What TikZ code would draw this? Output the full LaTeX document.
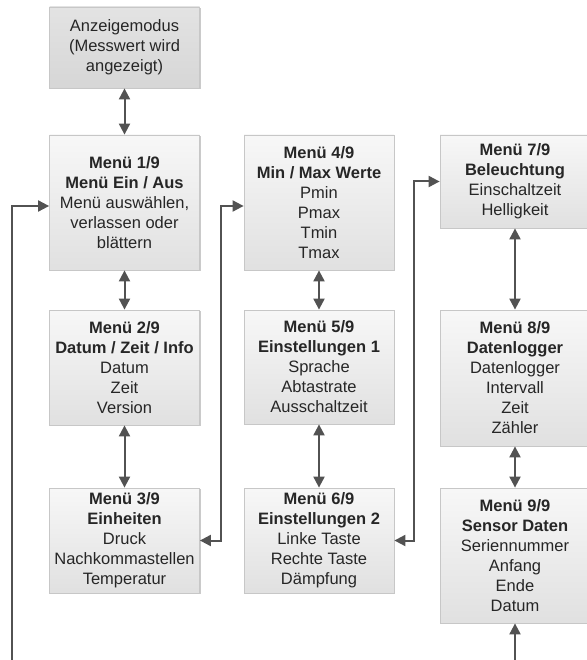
\documentclass[tikz,border=0pt]{standalone}
\usepackage{fontspec}
\setmainfont{Liberation Sans}
\usetikzlibrary{arrows.meta,shadows}

\begin{document}
\begin{tikzpicture}[x=1pt,y=-1pt,
  box/.style={draw=black!22, line width=0.8pt, top color=black!3, bottom color=black!12,
    minimum width=150pt, inner sep=0pt, align=center, text=black!85,
    font=\fontsize{16.5}{20}\selectfont,
    drop shadow={shadow xshift=1pt, shadow yshift=-1.2pt, fill=black!35, opacity=0.6}},
  startbox/.style={box, top color=black!11, bottom color=black!16},
  link/.style={draw=black!68, line width=2pt, {Triangle[length=11pt,width=11pt]}-{Triangle[length=11pt,width=11pt]}},
  feed/.style={draw=black!68, line width=2pt, -{Triangle[length=11pt,width=11pt]}}]
\useasboundingbox (0,0) rectangle (586,660);
% first column
\node[startbox, minimum height=81pt] (start) at (124.5,47.5)
  {Anzeigemodus\\(Messwert wird\\angezeigt)};
\node[box, minimum height=135pt] (m1) at (124.5,202.5)
  {\textbf{Menü 1/9}\\\textbf{Menü Ein / Aus}\\Menü auswählen,\\verlassen oder\\blättern};
\node[box, minimum height=115pt] (m2) at (124.5,367.5)
  {\textbf{Menü 2/9}\\\textbf{Datum / Zeit / Info}\\Datum\\Zeit\\Version};
\node[box, minimum height=105pt] (m3) at (124.5,540.5)
  {\textbf{Menü 3/9}\\\textbf{Einheiten}\\Druck\\Nachkommastellen\\Temperatur};
% second column
\node[box, minimum height=135pt] (m4) at (319,202.5)
  {\textbf{Menü 4/9}\\\textbf{Min / Max Werte}\\Pmin\\Pmax\\Tmin\\Tmax};
\node[box, minimum height=114pt] (m5) at (319,367)
  {\textbf{Menü 5/9}\\\textbf{Einstellungen 1}\\Sprache\\Abtastrate\\Ausschaltzeit};
\node[box, minimum height=105pt] (m6) at (319,540.5)
  {\textbf{Menü 6/9}\\\textbf{Einstellungen 2}\\Linke Taste\\Rechte Taste\\Dämpfung};
% third column
\node[box, minimum height=93pt] (m7) at (515,181.5)
  {\textbf{Menü 7/9}\\\textbf{Beleuchtung}\\Einschaltzeit\\Helligkeit};
\node[box, minimum height=136pt] (m8) at (515,378)
  {\textbf{Menü 8/9}\\\textbf{Datenlogger}\\Datenlogger\\Intervall\\Zeit\\Zähler};
\node[box, minimum height=135pt] (m9) at (515,555.5)
  {\textbf{Menü 9/9}\\\textbf{Sensor Daten}\\Seriennummer\\Anfang\\Ende\\Datum};
% connectors
\draw[link] (start) -- (m1);
\draw[link] (m1) -- (m2);
\draw[link] (m2) -- (m3);
\draw[link] (m4) -- (m5);
\draw[link] (m5) -- (m6);
\draw[link] (m7) -- (m8);
\draw[link] (m8) -- (m9);
\draw[link] (m3.east) -- ++(21,0) |- ([yshift=-3.5pt]m4.west);
\draw[link] (m6.east) -- ++(20,0) |- (m7.west);
\coordinate (back) at (12,660);
\coordinate (wrap) at (515,660);
\draw[feed] (back) |- ([yshift=-3.5pt]m1.west);
\draw[feed] (wrap) -- (m9.south);
\end{tikzpicture}
\end{document}
